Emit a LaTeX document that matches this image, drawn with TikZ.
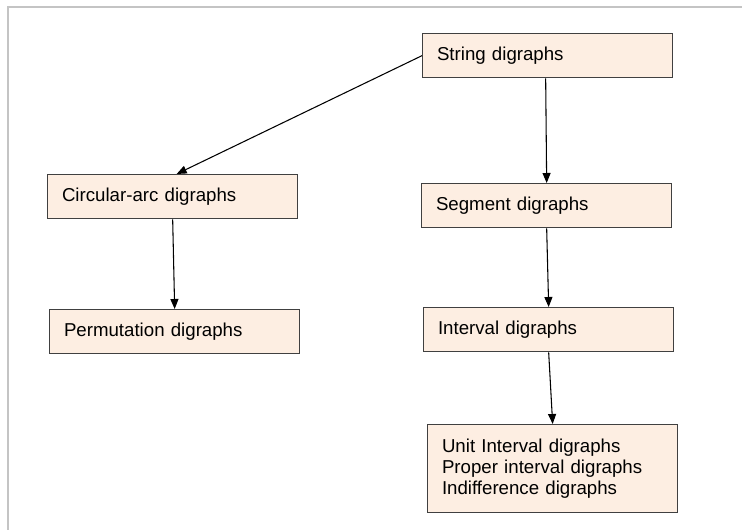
\documentclass[tikz,border=0pt]{standalone}
\usepackage{fontspec}
\setmainfont{Liberation Sans}
\usepackage{tikz}
\usetikzlibrary{arrows.meta,positioning}

\definecolor{boxfill}{HTML}{FDEEE2}
\definecolor{boxline}{HTML}{404040}
\definecolor{framegray}{HTML}{C4C4C4}

\tikzset{
  classbox/.style={draw=boxline, line width=1pt, fill=boxfill, rectangle,
    anchor=north west, minimum width=187.5pt, minimum height=33pt,
    text width=166pt, inner xsep=10pt, align=left,
    font=\fontsize{14}{15.75}\selectfont},
  incl/.style={-{Triangle[length=7.5pt,width=6pt]}, line width=0.8pt, black}
}

\begin{document}
\begin{tikzpicture}[x=0.75pt,y=-0.75pt]
            \useasboundingbox (0,0) rectangle (742,530);
            \draw[framegray, line width=1.2pt] (8,530) -- (8,7) -- (742,7);
            % boxes
            \node[classbox] (str) at (422,33) {String digraphs};
            \node[classbox] (circ) at (47,174) {Circular-arc digraphs};
            \node[classbox] (seg) at (421,183) {Segment digraphs};
            \node[classbox] (perm) at (49,309) {Permutation digraphs};
            \node[classbox] (int) at (423,307) {Interval digraphs};
            \node[classbox, minimum height=66pt] (unit) at (427,424)
                {Unit Interval digraphs\\Proper interval digraphs\\Indifference digraphs};
            % inclusions
            \draw[incl] (str.west) -- ([xshift=3pt]circ.north);
            \draw[incl] ([xshift=-1.5pt]str.south) -- (seg.north);
            \draw[incl] (circ.south) -- (perm.north);
            \draw[incl] (seg.south) -- (int.north);
            \draw[incl] (int.south) -- (unit.north);
\end{tikzpicture}
\end{document}
